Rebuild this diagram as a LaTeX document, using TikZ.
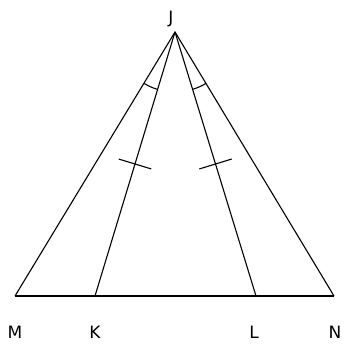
\documentclass[tikz,border=0pt]{standalone}
\usepackage{fontspec}
\setmainfont{DejaVu Sans}
\usetikzlibrary{calc,angles}
\tikzset{lbl/.style={font=\fontsize{17}{20}\selectfont, inner sep=0pt}}
\begin{document}
\begin{tikzpicture}[x=1pt,y=-1pt,line width=1.1pt]
\useasboundingbox (0,0) rectangle (343,347);
\coordinate (J) at (175,32);
\coordinate (M) at (15,296);
\coordinate (K) at (95,296);
\coordinate (L) at (256,296);
\coordinate (N) at (334,296);

\node[lbl] (lJ) at (171,19) {J};
\node[lbl] (lM) at (15,332) {M};
\node[lbl] (lK) at (95,332) {K};
\node[lbl] (lL) at (254,332) {L};
\node[lbl] (lN) at (335,332) {N};

\draw (M) -- (J) -- (N);
\draw (M) -- (N);
\draw (J) -- (K);
\draw (J) -- (L);

% equal angles at J
\draw pic[draw,angle radius=60pt] {angle=M--J--K};
\draw pic[draw,angle radius=60pt] {angle=L--J--N};

% equal lengths
\coordinate (mK) at ($(J)!0.5!(K)$);
\coordinate (mL) at ($(J)!0.5!(L)$);
\draw ($(mK)!17pt!90:(K)$) -- ($(mK)!17pt!-90:(K)$);
\draw ($(mL)!17pt!90:(L)$) -- ($(mL)!17pt!-90:(L)$);
\end{tikzpicture}
\end{document}
